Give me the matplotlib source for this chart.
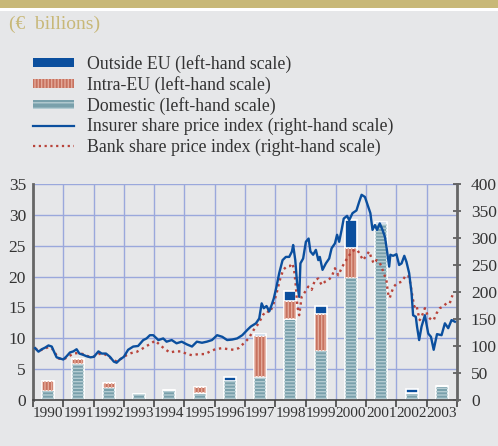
import numpy as np
import matplotlib
matplotlib.use("Agg")
import matplotlib.pyplot as plt
from matplotlib.patches import Patch, Rectangle
from matplotlib.lines import Line2D

# Datos de las barras (miles de millones de euros, escala izquierda)
anios = [1990, 1991, 1992, 1993, 1994, 1995, 1996, 1997, 1998, 1999, 2000, 2001, 2002, 2003]
domestico = [1.5, 5.9, 2.0, 1.0, 1.6, 1.2, 3.1, 3.8, 13.1, 7.9, 19.8, 28.5, 1.1, 2.3]
intra_ue = [1.5, 0.7, 0.7, 0.0, 0.0, 0.9, 0.0, 6.5, 3.0, 6.1, 4.8, 0.0, 0.0, 0.0]
fuera_ue = [0.0, 0.0, 0.0, 0.0, 0.0, 0.0, 0.6, 0.4, 1.6, 1.2, 4.6, 0.3, 0.75, 0.0]

# Indice de aseguradoras (escala derecha)
t_aseg = [1990.07, 1990.18, 1990.29, 1990.4, 1990.51, 1990.62, 1990.69, 1990.78, 1990.89, 1991.0,
          1991.11, 1991.22, 1991.33, 1991.44, 1991.53, 1991.64, 1991.77, 1991.9, 1992.01, 1992.16,
          1992.27, 1992.41, 1992.54, 1992.67, 1992.76, 1992.87, 1993.0, 1993.14, 1993.31, 1993.47,
          1993.64, 1993.75, 1993.86, 1993.97, 1994.08, 1994.14, 1994.3, 1994.41, 1994.58, 1994.74,
          1994.91, 1995.08, 1995.25, 1995.41, 1995.58, 1995.74, 1995.91, 1996.08, 1996.25, 1996.41,
          1996.58, 1996.74, 1996.91, 1997.08, 1997.19, 1997.36, 1997.47, 1997.55, 1997.62, 1997.71,
          1997.8, 1997.88, 1997.95, 1998.04, 1998.13, 1998.24, 1998.35, 1998.46, 1998.55, 1998.59,
          1998.66, 1998.72, 1998.79, 1998.83, 1998.92, 1999.01, 1999.1, 1999.16, 1999.25, 1999.34,
          1999.42, 1999.47, 1999.56, 1999.67, 1999.78, 1999.86, 1999.97, 2000.04, 2000.11, 2000.19,
          2000.26, 2000.37, 2000.44, 2000.55, 2000.68, 2000.77, 2000.85, 2000.96, 2001.07, 2001.14,
          2001.21, 2001.29, 2001.36, 2001.45, 2001.54, 2001.62, 2001.67, 2001.76, 2001.8, 2001.89,
          2002.0, 2002.09, 2002.17, 2002.26, 2002.33, 2002.42, 2002.5, 2002.55, 2002.64, 2002.68,
          2002.75, 2002.83, 2002.94, 2003.05, 2003.14, 2003.23, 2003.34, 2003.49, 2003.6, 2003.71,
          2003.82, 2003.93]
v_aseg = [96, 89.5, 94, 97, 101, 99, 90, 79, 77, 75,
          81, 88, 90, 94, 86, 84, 81, 79, 80, 90,
          86, 86, 80, 71, 69, 75, 80, 93, 99, 100,
          111, 114, 120, 120, 114, 111, 114, 108, 111, 105,
          108, 103, 99, 108, 106, 108, 111, 120, 117, 111,
          112, 114, 120, 130, 136, 142, 151, 179, 170, 174,
          164, 176, 188, 210, 235, 259, 265, 265, 275, 287,
          259, 216, 191, 253, 262, 293, 299, 275, 269, 278,
          259, 265, 241, 253, 262, 281, 290, 306, 293, 315,
          336, 341, 333, 346, 351, 367, 380, 376, 358, 346,
          315, 324, 315, 327, 315, 302, 284, 247, 269, 267,
          270, 250, 253, 267, 256, 235, 198, 157, 154, 136,
          111, 136, 157, 123, 117, 93, 122, 120, 142, 133,
          148, 145]

# Indice de bancos (escala derecha)
t_banco = [1990.07, 1990.18, 1990.35, 1990.51, 1990.62, 1990.73, 1990.84, 1991.0, 1991.16, 1991.33,
           1991.49, 1991.66, 1991.82, 1991.99, 1992.16, 1992.32, 1992.49, 1992.65, 1992.78, 1992.92,
           1993.09, 1993.25, 1993.42, 1993.58, 1993.75, 1993.91, 1994.03, 1994.19, 1994.36, 1994.52,
           1994.69, 1994.91, 1995.08, 1995.25, 1995.47, 1995.68, 1995.85, 1996.02, 1996.24, 1996.46,
           1996.63, 1996.79, 1996.96, 1997.12, 1997.29, 1997.45, 1997.6, 1997.71, 1997.82, 1997.93,
           1998.04, 1998.15, 1998.26, 1998.37, 1998.48, 1998.56, 1998.62, 1998.68, 1998.73, 1998.79,
           1998.87, 1998.98, 1999.09, 1999.2, 1999.31, 1999.42, 1999.53, 1999.64, 1999.75, 1999.86,
           1999.97, 2000.08, 2000.19, 2000.3, 2000.41, 2000.52, 2000.63, 2000.71, 2000.79, 2000.9,
           2001.01, 2001.1, 2001.18, 2001.25, 2001.34, 2001.43, 2001.5, 2001.58, 2001.67, 2001.72,
           2001.78, 2001.83, 2001.91, 2002.02, 2002.17, 2002.28, 2002.39, 2002.46, 2002.53, 2002.59,
           2002.66, 2002.72, 2002.77, 2002.83, 2002.94, 2003.05, 2003.16, 2003.23, 2003.32, 2003.43,
           2003.54, 2003.65, 2003.76, 2003.85]
v_banco = [96, 91, 94, 98, 96, 87, 77, 75, 80, 86,
           87, 85, 81, 80, 85, 86, 81, 74, 71, 77,
           83, 87, 89, 94, 100, 105, 110, 102, 94, 88,
           90, 90, 85, 83, 85, 85, 90, 94, 96, 94,
           93, 96, 105, 114, 130, 142, 158, 165, 162, 176,
           197, 222, 241, 247, 248, 253, 242, 210, 173, 157,
           191, 200, 210, 204, 222, 225, 213, 219, 222, 228,
           244, 231, 244, 256, 265, 275, 278, 278, 270, 259,
           268, 275, 262, 253, 259, 256, 248, 235, 222, 198,
           189, 198, 210, 216, 219, 228, 231, 216, 191, 173,
           176, 160, 148, 154, 170, 154, 148, 148, 160, 170,
           173, 179, 179, 194]

# Colores
FONDO = '#e6e7e9'
DORADO = '#c8b878'
AZUL = '#0b4f9e'
ROJO = '#b8433a'
DOM_BASE = '#79a0ab'
DOM_RAYA = '#b4ccd2'
INTRA_BASE = '#c7725f'
INTRA_RAYA = '#e3a999'
REJILLA = '#9aa8dc'
TEXTO = '#333333'

plt.rcParams['font.family'] = ['Liberation Serif', 'DejaVu Serif']
plt.rcParams['hatch.linewidth'] = 1.0

fig = plt.figure(figsize=(4.98, 4.46), dpi=100, facecolor=FONDO)
fig.add_artist(Rectangle((0, 1 - 8 / 446), 1, 8 / 446, transform=fig.transFigure,
                         facecolor=DORADO, edgecolor='none'))
fig.add_artist(Rectangle((0, 1 - 10.5 / 446), 1, 2.5 / 446, transform=fig.transFigure,
                         facecolor='white', edgecolor='none'))
fig.text(9 / 498, 1 - 24 / 446, '(€  billions)', color=DORADO, fontsize=14, va='center')

ax = fig.add_axes([33 / 498, 1 - 400 / 446, 424 / 498, 216 / 446])
ax.set_facecolor(FONDO)

x = np.array(anios) + 0.5
dom = np.array(domestico)
intra = np.array(intra_ue)
fuera = np.array(fuera_ue)
ancho = 0.4

# Barras apiladas, con rayas encima
ax.bar(x, dom, ancho, color=DOM_BASE, edgecolor='white', linewidth=1.2, zorder=2)
ax.bar(x, dom, ancho, facecolor='none', edgecolor=DOM_RAYA, hatch='-----', linewidth=0, zorder=3)
ax.bar(x, intra, ancho, bottom=dom, color=INTRA_BASE, edgecolor='white', linewidth=1.2, zorder=2)
ax.bar(x, intra, ancho, bottom=dom, facecolor='none', edgecolor=INTRA_RAYA, hatch='|||||',
       linewidth=0, zorder=3)
ax.bar(x, fuera, ancho, bottom=dom + intra, color=AZUL, edgecolor='white', linewidth=1.2, zorder=2)

ax.set_xlim(1990, 2004)
ax.set_ylim(0, 35)
ax.set_yticks(np.arange(0, 36, 5))
ax.set_xticks(np.arange(1990, 2005))
ax.set_xticklabels([])
ax.set_xticks(x, minor=True)
ax.set_xticklabels([str(a) for a in anios], minor=True)
ax.tick_params(axis='x', which='major', direction='out', length=5, width=1.2, color='#444444')
ax.tick_params(axis='x', which='minor', length=0, pad=5, labelsize=11, labelcolor=TEXTO)
ax.tick_params(axis='y', length=0, pad=5, labelsize=12.5, labelcolor=TEXTO)
ax.grid(True, which='major', color=REJILLA, linewidth=1, zorder=0)
ax.set_axisbelow(True)
for lado in ['top', 'right']:
    ax.spines[lado].set_visible(False)
ax.spines['left'].set_color('#666666')
ax.spines['left'].set_linewidth(2)
ax.spines['bottom'].set_color('#444444')
ax.spines['bottom'].set_linewidth(1.2)

ax2 = ax.twinx()
ax2.plot(t_aseg, v_aseg, color=AZUL, linewidth=1.7, zorder=5)
ax2.plot(t_banco, v_banco, color=ROJO, linewidth=1.7, linestyle=(0, (1, 1.6)), zorder=4)
ax2.set_ylim(0, 400)
ax2.set_yticks(np.arange(0, 401, 50))
ax2.tick_params(axis='y', direction='inout', length=6, width=1.2, color='#555555', pad=7,
                labelsize=12.5, labelcolor=TEXTO)
for lado in ['top', 'left', 'bottom']:
    ax2.spines[lado].set_visible(False)
ax2.spines['right'].set_color('#666666')
ax2.spines['right'].set_linewidth(2)

# Leyenda
manejadores = [
    Patch(facecolor=AZUL, edgecolor='none', label='Outside EU (left-hand scale)'),
    Patch(facecolor=INTRA_BASE, edgecolor=INTRA_RAYA, hatch='|||||', linewidth=0,
          label='Intra-EU (left-hand scale)'),
    Patch(facecolor=DOM_BASE, edgecolor=DOM_RAYA, hatch='---', linewidth=0,
          label='Domestic (left-hand scale)'),
    Line2D([], [], color=AZUL, linewidth=1.6, label='Insurer share price index (right-hand scale)'),
    Line2D([], [], color=ROJO, linewidth=1.6, linestyle=(0, (1, 1.6)),
           label='Bank share price index (right-hand scale)'),
]
ley = fig.legend(handles=manejadores, loc='upper left', bbox_to_anchor=(33 / 498, 1 - 55 / 446),
                 frameon=False, fontsize=12.8, handlelength=2.3, handleheight=0.42,
                 handletextpad=0.75, labelspacing=0.17, borderpad=0, borderaxespad=0)
for txt in ley.get_texts():
    txt.set_color(TEXTO)

fig.savefig('out.png', dpi=100, facecolor=FONDO)
